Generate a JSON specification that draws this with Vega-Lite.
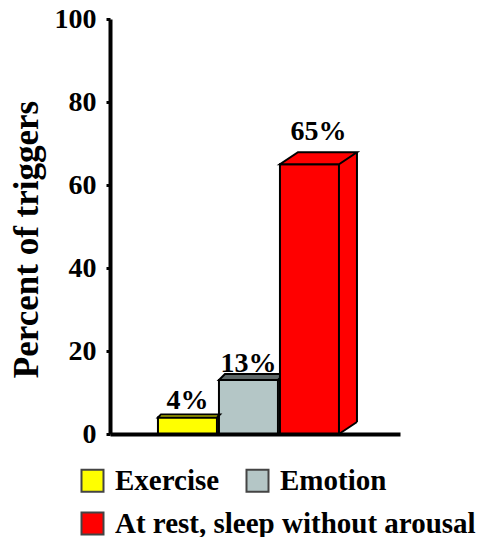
{
  "$schema": "https://vega.github.io/schema/vega-lite/v6.json",
  "autosize": "none",
  "width": 290,
  "height": 415,
  "padding": {"left": 110, "top": 19, "right": 96, "bottom": 103},
  "background": "white",
  "config": {
    "view": {"stroke": null},
    "font": "Liberation Serif",
    "legend": {
      "title": null,
      "orient": "none",
      "direction": "horizontal",
      "symbolType": "square",
      "symbolSize": 484,
      "symbolStrokeColor": "#444444",
      "symbolStrokeWidth": 2,
      "symbolOpacity": 1,
      "labelFont": "Liberation Serif",
      "labelFontSize": 29,
      "labelFontWeight": "bold",
      "labelColor": "black",
      "labelLimit": 500,
      "labelOffset": 8,
      "columnPadding": 22
    }
  },
  "data": {
    "values": [
      {"trigger": "Exercise", "percent": 4},
      {"trigger": "Emotion", "percent": 13},
      {"trigger": "At rest, sleep without arousal", "percent": 65}
    ]
  },
  "transform": [{"calculate": "datum.percent + '%'", "as": "label"}],
  "encoding": {
    "x": {
      "field": "trigger",
      "type": "nominal",
      "sort": null,
      "scale": {
        "domain": ["Exercise", "Emotion", "At rest, sleep without arousal"],
        "paddingInner": 0.0328,
        "paddingOuter": 0.8934,
        "align": 0.44
      },
      "axis": {
        "title": null,
        "labels": false,
        "ticks": false,
        "domainColor": "black",
        "domainWidth": 4,
        "zindex": 1
      }
    },
    "y": {
      "field": "percent",
      "type": "quantitative",
      "scale": {"domain": [0, 100], "nice": false},
      "axis": {
        "values": [0, 20, 40, 60, 80, 100],
        "grid": false,
        "domainColor": "black",
        "domainWidth": 4,
        "tickColor": "black",
        "tickWidth": 3,
        "tickSize": 4,
        "labelFont": "Liberation Serif",
        "labelFontSize": 28,
        "labelFontWeight": "bold",
        "labelColor": "black",
        "labelPadding": 10,
        "title": "Percent of triggers",
        "titleFont": "Liberation Serif",
        "titleFontSize": 35,
        "titleFontWeight": "bold",
        "titleColor": "black",
        "titleX": -73,
        "titleY": 220,
        "titleBaseline": "alphabetic",
        "zindex": 1
      }
    }
  },
  "layer": [
    {
      "transform": [{"filter": "datum.trigger === 'At rest, sleep without arousal'"}],
      "mark": {"type": "bar", "fill": "#ff0000", "xOffset": 18, "x2Offset": 18, "yOffset": -12, "y2Offset": -12},
      "encoding": {"y2": {"datum": 0}}
    },
    {
      "transform": [{"filter": "datum.trigger === 'At rest, sleep without arousal'"}],
      "mark": {
        "type": "point",
        "shape": "M0.36,-0.24L0,0L0,-0.24",
        "size": 10000,
        "filled": true,
        "fill": "#ff0000",
        "stroke": "black",
        "strokeWidth": 2,
        "opacity": 1
      },
      "encoding": {
        "x": {"field": "trigger", "type": "nominal", "sort": null, "bandPosition": 1},
        "y": {"datum": 0}
      }
    },
    {
      "transform": [{"filter": "datum.trigger === 'At rest, sleep without arousal'"}],
      "mark": {"type": "rule", "stroke": "black", "strokeWidth": 2, "xOffset": 18, "yOffset": -12, "y2Offset": -12},
      "encoding": {
        "x": {"field": "trigger", "type": "nominal", "sort": null, "bandPosition": 1},
        "y2": {"datum": 0}
      }
    },
    {
      "transform": [{"filter": "datum.trigger !== 'At rest, sleep without arousal'"}],
      "mark": {"type": "bar", "stroke": "black", "strokeWidth": 2, "opacity": 1},
      "encoding": {
        "y2": {"datum": 0},
        "color": {
          "field": "trigger",
          "type": "nominal",
          "sort": null,
          "scale": {
            "domain": ["Exercise", "Emotion"],
            "range": ["#ffff00", "#b4c6c6"]
          },
          "legend": {"legendX": -32, "legendY": 447}
        }
      }
    },
    {
      "transform": [{"filter": "datum.trigger === 'Exercise'"}],
      "mark": {
        "type": "point",
        "shape": "M-0.59,0L0.59,0L0.65,-0.06L-0.53,-0.06Z",
        "size": 10000,
        "filled": true,
        "fill": "#ffff00",
        "stroke": "black",
        "strokeWidth": 2,
        "opacity": 1
      }
    },
    {
      "transform": [{"filter": "datum.trigger === 'Emotion'"}],
      "mark": {
        "type": "point",
        "shape": "M-0.59,0L0.59,0L0.71,-0.12L-0.47,-0.12Z",
        "size": 10000,
        "filled": true,
        "fill": "#5f6868",
        "stroke": "black",
        "strokeWidth": 2,
        "opacity": 1
      }
    },
    {
      "transform": [{"filter": "datum.trigger === 'At rest, sleep without arousal'"}],
      "mark": {"type": "bar", "stroke": "black", "strokeWidth": 2, "opacity": 1},
      "encoding": {
        "y2": {"datum": 0},
        "fill": {
          "field": "trigger",
          "type": "nominal",
          "scale": {
            "domain": ["At rest, sleep without arousal"],
            "range": ["#ff0000"]
          },
          "legend": {"legendX": -32, "legendY": 490}
        }
      }
    },
    {
      "transform": [{"filter": "datum.trigger === 'At rest, sleep without arousal'"}],
      "mark": {
        "type": "point",
        "shape": "M-0.59,0L0.59,0L0.95,-0.24L-0.23,-0.24Z",
        "size": 10000,
        "filled": true,
        "fill": "#ff0000",
        "stroke": "black",
        "strokeWidth": 2,
        "opacity": 1
      }
    },
    {
      "transform": [{"filter": "datum.trigger !== 'At rest, sleep without arousal'"}],
      "mark": {
        "type": "text",
        "font": "Liberation Serif",
        "fontSize": 28,
        "fontWeight": "bold",
        "color": "black",
        "baseline": "alphabetic",
        "dy": -8
      },
      "encoding": {"text": {"field": "label"}}
    },
    {
      "transform": [{"filter": "datum.trigger === 'At rest, sleep without arousal'"}],
      "mark": {
        "type": "text",
        "font": "Liberation Serif",
        "fontSize": 28,
        "fontWeight": "bold",
        "color": "black",
        "baseline": "alphabetic",
        "dx": 9,
        "dy": -24
      },
      "encoding": {"text": {"field": "label"}}
    }
  ]
}
